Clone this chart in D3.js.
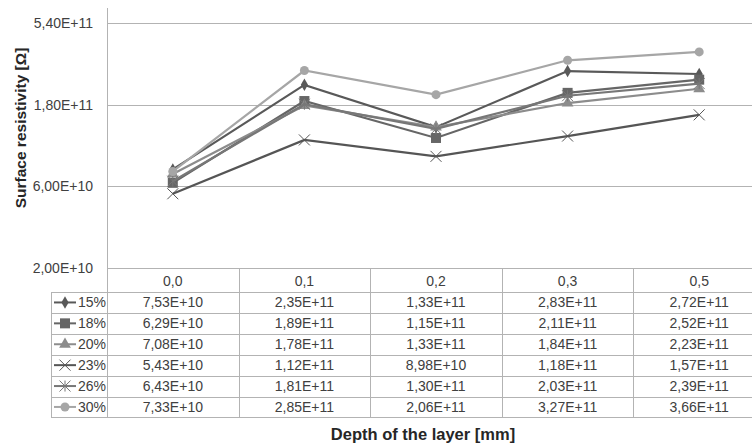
<!DOCTYPE html>
<html>
<head>
<meta charset="utf-8">
<script src="https://cdn.jsdelivr.net/npm/d3@7"></script>
<style>
  body { margin: 0; background: #fff; }
  svg { font-family: "Liberation Sans", Arial, sans-serif; }
</style>
</head>
<body>
<div id="chart"></div>
<script>
// Data
const depths = ["0,0", "0,1", "0,2", "0,3", "0,5"];
const seriesNames = ["15%", "18%", "20%", "23%", "26%", "30%"];
const s15 = [7.53e10, 2.35e11, 1.33e11, 2.83e11, 2.72e11];
const s18 = [6.29e10, 1.89e11, 1.15e11, 2.11e11, 2.52e11];
const s20 = [7.08e10, 1.78e11, 1.33e11, 1.84e11, 2.23e11];
const s23 = [5.43e10, 1.12e11, 8.98e10, 1.18e11, 1.57e11];
const s26 = [6.43e10, 1.81e11, 1.30e11, 2.03e11, 2.39e11];
const s30 = [7.33e10, 2.85e11, 2.06e11, 3.27e11, 3.66e11];
const yTicks = [2e10, 6e10, 1.8e11, 5.4e11];

const series = [
    {name: seriesNames[0], values: s15, color: "#595959", marker: "diamond"},
    {name: seriesNames[1], values: s18, color: "#666666", marker: "square"},
    {name: seriesNames[2], values: s20, color: "#8c8c8c", marker: "triangle"},
    {name: seriesNames[3], values: s23, color: "#555555", marker: "x"},
    {name: seriesNames[4], values: s26, color: "#777777", marker: "star"},
    {name: seriesNames[5], values: s30, color: "#a6a6a6", marker: "circle"}
];

const width = 752, height = 447;
const plotLeft = 107, plotRight = 765, plotTop = 8, plotBottom = 268;
const rowH = 20.9, headerH = 24, legendLeft = 51;
const textColor = "#404040";

const svg = d3.select("#chart").append("svg")
    .attr("width", width)
    .attr("height", height);

const x = d3.scaleBand().domain(depths).range([plotLeft, plotRight]);
const y = d3.scaleLog().domain([2e10, 5.4e11]).range([plotBottom, 23]);

// "5,40E+11" style
function fmt(v) {
    const e = Math.floor(Math.log10(v) + 1e-9);
    const m = (v / Math.pow(10, e)).toFixed(2).replace(".", ",");
    return m + "E+" + String(e).padStart(2, "0");
}

// Gridlines
svg.append("g")
    .selectAll("line")
    .data(yTicks)
    .join("line")
    .attr("x1", plotLeft)
    .attr("x2", width)
    .attr("y1", d => Math.round(y(d)) + 0.5)
    .attr("y2", d => Math.round(y(d)) + 0.5)
    .attr("stroke", "#b3b3b3")
    .attr("stroke-width", 1);

// Vertical axis line
svg.append("line")
    .attr("x1", plotLeft + 0.5).attr("x2", plotLeft + 0.5)
    .attr("y1", plotTop).attr("y2", plotBottom)
    .attr("stroke", "#b3b3b3");

// Y axis labels
const yAxis = svg.append("g")
    .attr("transform", `translate(${plotLeft - 14},0)`)
    .call(d3.axisLeft(y).tickValues(yTicks).tickFormat(fmt).tickSize(0).tickPadding(0));
yAxis.select(".domain").remove();
yAxis.selectAll("text")
    .attr("fill", textColor)
    .style("font-size", "14px")
    .style("font-family", "Liberation Sans, Arial, sans-serif");

// Y title
svg.append("text")
    .attr("transform", "translate(26,128) rotate(-90)")
    .attr("text-anchor", "middle")
    .attr("fill", "#262626")
    .style("font-size", "15.5px")
    .style("font-weight", "bold")
    .text("Surface resistivity [Ω]");

// Marker drawing
function drawMarker(g, type, color, cx, cy) {
    if (type === "diamond") {
        g.append("path").attr("d", d3.symbol(d3.symbolDiamond, 45)())
            .attr("transform", `translate(${cx},${cy})`).attr("fill", color);
    } else if (type === "square") {
        g.append("rect").attr("x", cx - 5).attr("y", cy - 5).attr("width", 10).attr("height", 10)
            .attr("fill", color);
    } else if (type === "triangle") {
        g.append("path").attr("d", d3.symbol(d3.symbolTriangle, 60)())
            .attr("transform", `translate(${cx},${cy})`).attr("fill", color);
    } else if (type === "circle") {
        g.append("circle").attr("cx", cx).attr("cy", cy).attr("r", 4.5).attr("fill", color);
    } else if (type === "x" || type === "star") {
        const r = 5.5;
        let p = `M${cx - r},${cy - r}L${cx + r},${cy + r}M${cx - r},${cy + r}L${cx + r},${cy - r}`;
        if (type === "star") p += `M${cx},${cy - r}L${cx},${cy + r}`;
        g.append("path").attr("d", p).attr("stroke", color).attr("stroke-width", 1).attr("fill", "none");
    }
}

// Lines
const line = d3.line()
    .x((d, i) => x(depths[i]) + x.bandwidth() / 2)
    .y(d => y(d));

const linesG = svg.append("g");
series.forEach(s => {
    const g = linesG.append("g");
    g.append("path")
        .datum(s.values)
        .attr("d", line)
        .attr("fill", "none")
        .attr("stroke", s.color)
        .attr("stroke-width", 2.2);
    s.values.forEach((v, i) => {
        drawMarker(g, s.marker, s.color, x(depths[i]) + x.bandwidth() / 2, y(v));
    });
});

// Data table
const table = svg.append("g");
const tableTop = plotBottom;
const rowsTop = tableTop + headerH;
const rowY = i => rowsTop + i * rowH;
const tableBottom = rowY(series.length);
const border = "#b3b3b3";

// header column lines and labels
depths.forEach(d => {
    table.append("line")
        .attr("x1", Math.round(x(d)) + 0.5).attr("x2", Math.round(x(d)) + 0.5)
        .attr("y1", tableTop).attr("y2", tableBottom)
        .attr("stroke", border);
    table.append("text")
        .attr("x", x(d) + x.bandwidth() / 2)
        .attr("y", tableTop + 18)
        .attr("text-anchor", "middle")
        .attr("fill", textColor)
        .style("font-size", "14px")
        .text(d);
});
// legend column left border
table.append("line")
    .attr("x1", legendLeft + 0.5).attr("x2", legendLeft + 0.5)
    .attr("y1", rowsTop).attr("y2", tableBottom)
    .attr("stroke", border);

// horizontal row lines
d3.range(series.length + 1).forEach(i => {
    table.append("line")
        .attr("x1", legendLeft).attr("x2", width)
        .attr("y1", Math.round(rowY(i)) + 0.5).attr("y2", Math.round(rowY(i)) + 0.5)
        .attr("stroke", border);
});

series.forEach((s, i) => {
    const cy = rowY(i) + rowH / 2;
    const lg = table.append("g");
    lg.append("line")
        .attr("x1", legendLeft + 3).attr("x2", legendLeft + 25)
        .attr("y1", cy).attr("y2", cy)
        .attr("stroke", s.color).attr("stroke-width", 2);
    drawMarker(lg, s.marker, s.color, legendLeft + 14, cy);
    lg.append("text")
        .attr("x", legendLeft + 27)
        .attr("y", cy + 5)
        .attr("fill", textColor)
        .style("font-size", "14px")
        .text(s.name);
    s.values.forEach((v, j) => {
        table.append("text")
            .attr("x", x(depths[j]) + x.bandwidth() / 2)
            .attr("y", cy + 5)
            .attr("text-anchor", "middle")
            .attr("fill", textColor)
            .style("font-size", "14px")
            .text(fmt(v));
    });
});

// X title
svg.append("text")
    .attr("x", 423)
    .attr("y", 440)
    .attr("text-anchor", "middle")
    .attr("fill", "#262626")
    .style("font-size", "16.5px")
    .style("font-weight", "bold")
    .text("Depth of the layer [mm]");
</script>
</body>
</html>
